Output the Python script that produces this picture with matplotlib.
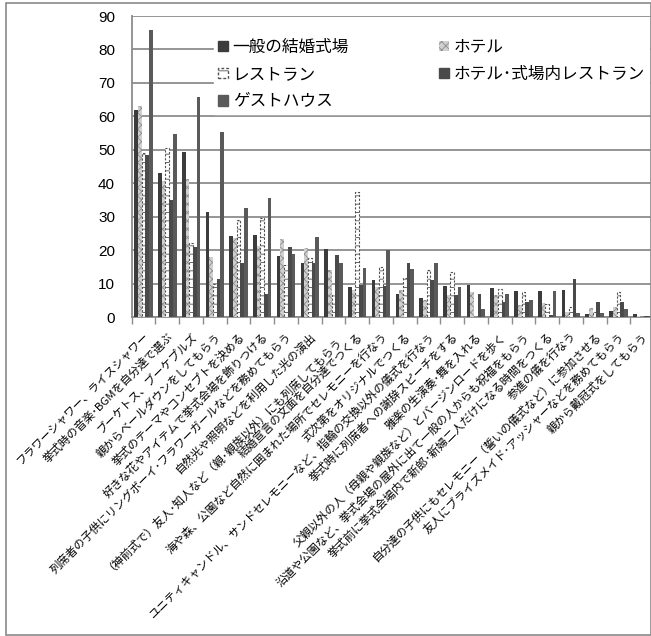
import matplotlib
matplotlib.use("Agg")
import matplotlib.pyplot as plt
import numpy as np
from matplotlib.patches import Patch, Rectangle

plt.rcParams['font.family'] = ['Noto Sans CJK JP', 'DejaVu Sans']
plt.rcParams['hatch.linewidth'] = 0.6

categories = [
    "フラワーシャワー、ライスシャワー",
    "挙式時の音楽･BGMを自分達で選ぶ",
    "ブーケトス、ブーケプルズ",
    "親からベールダウンをしてもらう",
    "挙式のテーマやコンセプトを決める",
    "好きな花やアイテムで挙式会場を飾りつける",
    "列席者の子供にリングボーイ･フラワーガールなどを務めてもらう",
    "自然光や照明などを利用した光の演出",
    "（神前式で）友人･知人など（親･親族以外）にも列席してもらう",
    "結婚宣言の文面を自分達でつくる",
    "海や森、公園など自然に囲まれた場所でセレモニーを行なう",
    "式次第をオリジナルでつくる",
    "ユニティキャンドル、サンドセレモニーなど、指輪の交換以外の儀式を行なう",
    "挙式時に列席者への謝辞スピーチをする",
    "雅楽の生演奏･舞を入れる",
    "父親以外の人（母親や親族など）とバージンロードを歩く",
    "沿道や公園など、挙式会場の屋外に出て一般の人からも祝福をもらう",
    "挙式前に挙式会場内で新郎･新婦二人だけになる時間をつくる",
    "参進の儀を行なう",
    "自分達の子供にもセレモニー（誓いの儀式など）に参加させる",
    "友人にブライズメイド･アッシャーなどを務めてもらう",
    "親から戴冠式をしてもらう",
]

series_names = ["一般の結婚式場", "ホテル", "レストラン", "ホテル･式場内レストラン", "ゲストハウス"]

general    = [62.0, 43.0, 49.2, 31.4, 24.2, 24.5, 18.2, 16.0, 20.2, 9.0, 11.0, 6.8, 5.8, 9.2, 9.5, 8.7, 7.7, 7.7, 8.0, 0.8, 1.8, 0.8]
hotel      = [63.0, 40.7, 41.4, 17.8, 23.5, 21.2, 23.2, 20.5, 14.0, 8.0, 9.0, 8.0, 5.0, 6.5, 7.5, 6.5, 3.5, 4.2, 1.5, 2.8, 2.9, 0.3]
restaurant = [49.0, 50.4, 22.0, 10.0, 29.0, 29.6, 15.5, 17.5, 6.5, 37.4, 15.0, 11.8, 14.0, 13.5, 0.0, 8.5, 7.5, 4.0, 2.9, 1.5, 7.5, 0.0]
hotelrest  = [48.5, 34.9, 21.0, 11.5, 16.2, 6.8, 21.0, 16.2, 18.5, 9.5, 9.2, 16.2, 11.0, 6.5, 7.0, 4.5, 4.5, 0.5, 11.5, 4.5, 4.5, 0.3]
guesthouse = [85.8, 54.6, 65.7, 55.2, 32.5, 35.6, 18.8, 23.8, 16.0, 14.8, 20.0, 14.3, 16.2, 9.0, 2.5, 7.0, 5.0, 7.7, 1.2, 1.2, 2.5, 0.2]

W, H = 651, 636
fig = plt.figure(figsize=(W/100, H/100), dpi=100)
fig.patch.set_facecolor('white')
# outer chart border
fig.add_artist(Rectangle((6/W, 1/H), (W-6)/W, (H-4)/H, transform=fig.transFigure,
                         fill=False, edgecolor='#8a8a8a', linewidth=1.2))

left, right, top, bottom = 131.7, 654.0, 16.0, 317.0
ax = fig.add_axes([left/W, 1-bottom/H, (right-left)/W, (bottom-top)/H])

n = len(categories)
x = np.arange(n)
bw = 0.155
styles = [
    dict(color='#3c3c3c'),
    dict(facecolor='#d0d0d0', edgecolor='#8c8c8c', hatch='xxxx', linewidth=0),
    dict(facecolor='white', edgecolor='#505050', hatch='--', linewidth=0.8, linestyle=(0, (2, 1.5))),
    dict(color='#4a4a4a'),
    dict(color='#5a5a5a'),
]
data = [general, hotel, restaurant, hotelrest, guesthouse]
for i, (vals, st) in enumerate(zip(data, styles)):
    ax.bar(x + (i - 2) * bw, vals, width=bw, zorder=3, **st)

ax.set_xlim(-0.5, n - 0.5)
ax.set_ylim(0, 90)
ax.set_yticks(np.arange(0, 91, 10))
ax.yaxis.grid(True, color='#8c8c8c', linewidth=1.3, zorder=0)
ax.set_axisbelow(True)
for s in ['top', 'right']:
    ax.spines[s].set_visible(False)
ax.spines['left'].set_color('#8c8c8c')
ax.spines['left'].set_linewidth(1.3)
ax.spines['bottom'].set_color('#8c8c8c')
ax.spines['bottom'].set_linewidth(1.3)
ax.tick_params(axis='y', length=0, labelsize=11, pad=12)
for t in ax.get_yticklabels():
    t.set_family(['Liberation Sans', 'DejaVu Sans'])
ax.set_xticks(x)
ax.set_xticklabels(categories, rotation=45, ha='right', rotation_mode='anchor', fontsize=8.2)
ax.tick_params(axis='x', length=0, pad=10)
ax.set_xticks(np.arange(-0.5, n, 1), minor=True)
ax.tick_params(axis='x', which='minor', length=5, color='#8c8c8c', width=1)

handles = [
    Patch(facecolor='#3c3c3c', edgecolor='#3c3c3c'),
    Patch(facecolor='white', edgecolor='#505050', linestyle=(0, (2, 1.5)), hatch='--'),
    Patch(facecolor='#5a5a5a', edgecolor='#5a5a5a'),
    Patch(facecolor='#d0d0d0', edgecolor='#8c8c8c', hatch='xxxx', linewidth=0),
    Patch(facecolor='#4a4a4a', edgecolor='#4a4a4a'),
]
labels = [series_names[0], series_names[2], series_names[4], series_names[1], series_names[3]]
leg = ax.legend(handles, labels, ncol=2, loc='upper left',
                bbox_to_anchor=(206/W, 1-27/H), bbox_transform=fig.transFigure,
                fontsize=12, frameon=True, fancybox=False, framealpha=1,
                edgecolor='white', handlelength=0.6, handleheight=0.6,
                handletextpad=0.3, columnspacing=5.4, labelspacing=0.62,
                borderpad=0.2)
leg.set_zorder(5)

fig.savefig('out.png', dpi=100, facecolor='white')
